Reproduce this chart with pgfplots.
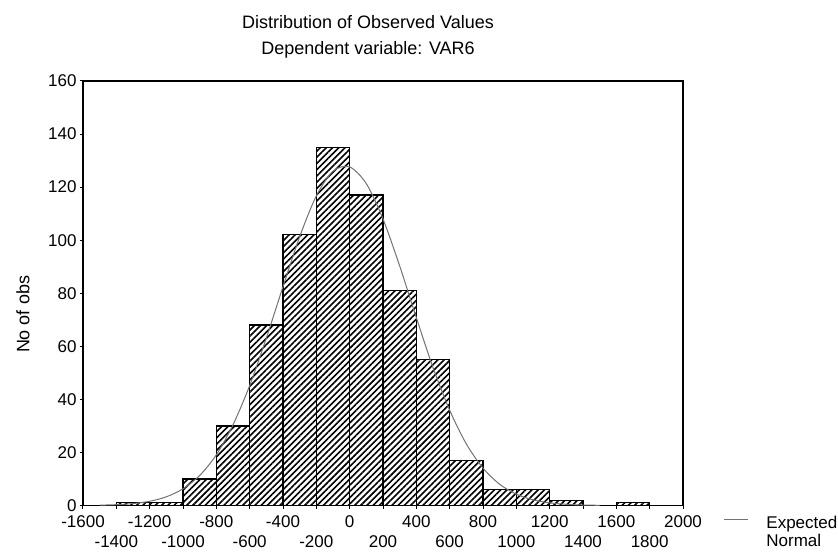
\documentclass[border=0pt]{standalone}
\usepackage{pgfplots}
\pgfplotsset{compat=1.18}
\usepackage{fontspec}
\setmainfont{Liberation Sans}
\usetikzlibrary{patterns.meta}
\definecolor{curvegray}{gray}{0.45}
\begin{document}
\begin{tikzpicture}
\path[use as bounding box] (-41.5pt,-24.75pt) rectangle (377.5pt,252.75pt);
\begin{axis}[
  at={(0,0)}, anchor=south west,
  scale only axis, width=300pt, height=212.25pt,
  xmin=-1600, xmax=2000, ymin=0, ymax=160,
  xtick={-1600,-1200,...,2000},
  extra x ticks={-1400,-1000,...,1800},
  extra x tick style={xticklabel style={yshift=-9.75pt}},
  ytick={0,20,...,160},
  xtick pos=bottom, ytick pos=left,
  tick align=outside, major tick length=1.5pt,
  axis line style={line width=0.6pt},
  tick style={line width=0.5pt, black},
  /pgf/number format/.cd, assume math mode=true, 1000 sep={}, /pgfplots/.cd,
  tick label style={font=\fontsize{8.5}{10}\selectfont},
  xticklabel style={inner sep=1pt, yshift=-2.5pt},
  yticklabel style={inner sep=1.5pt},
  ylabel={No of obs},
  ylabel style={at={(axis description cs:-0.1,0.45)}, anchor=center, font=\fontsize{9}{11}\selectfont},
  title={Distribution of Observed Values\\Dependent variable: VAR6},
  title style={at={(axis description cs:0.475,1)}, anchor=south, align=center, inner sep=0pt, yshift=5.4pt, font=\fontsize{9}{13}\selectfont},
  legend style={at={(axis description cs:1,0)}, anchor=north west, xshift=20pt, yshift=-5pt,
    draw=none, fill=none, inner sep=0pt, column sep=0pt,
    nodes={align=left, inner sep=0pt, font=\fontsize{8.5}{7.5}\selectfont}},
  legend image code/.code={\draw[#1] (0pt,6.5pt) -- (12pt,6.5pt);},
]
\addplot[ybar interval, draw=black, line width=0.6pt,
  pattern={Lines[angle=45,distance=2.2pt,line width=0.8pt]}, forget plot]
coordinates {
(-1600,0) (-1400,1) (-1200,1) (-1000,10) (-800,30) (-600,68) (-400,102)
(-200,135) (0,117) (200,81) (400,55) (600,17) (800,6) (1000,6)
(1200,2) (1400,0) (1600,1) (1800,0) (2000,0)
};
\addplot[smooth, curvegray, line width=0.5pt] coordinates {
(-1500,0.13) (-1400,0.31) (-1300,0.73) (-1200,1.59) (-1100,3.27) (-1000,6.28)
(-900,11.3) (-800,19.1) (-700,30.4) (-600,45.2) (-500,63.1) (-400,82.5)
(-300,101.3) (-200,116.7) (-100,126.0) (0,127.6) (100,121.3) (200,108.0)
(300,90.3) (400,70.8) (500,52.0) (600,35.9) (700,23.2) (800,14.1)
(900,8.0) (1000,4.27) (1100,2.14) (1200,1.0) (1300,0.44) (1400,0.18) (1500,0.07)
};
\addlegendentry{\hspace{9pt}Expected\\\hspace{9pt}Normal}
\end{axis}
\end{tikzpicture}
\end{document}
